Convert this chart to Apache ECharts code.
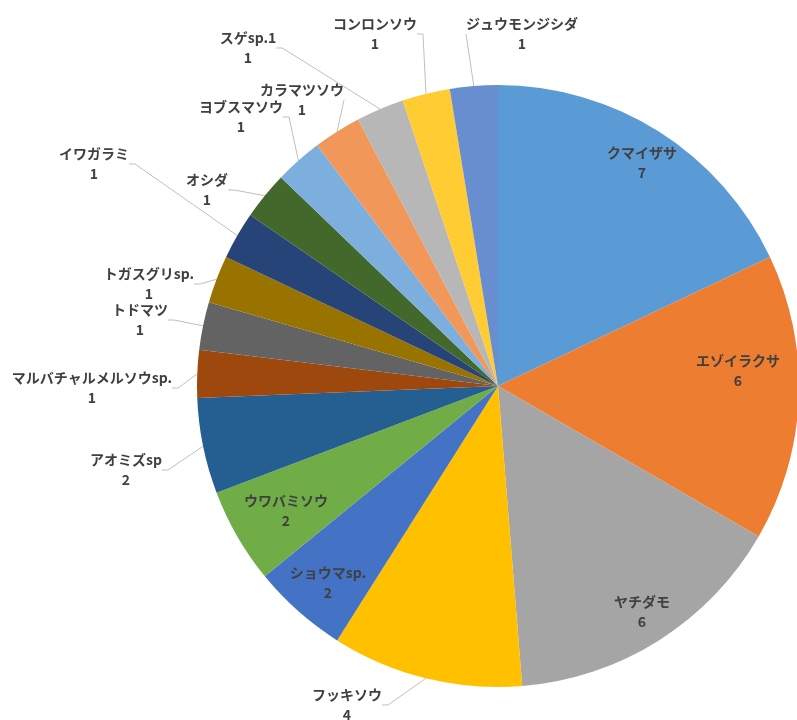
<!DOCTYPE html>
<html>
<head>
<meta charset="utf-8">
<script src="https://cdn.jsdelivr.net/npm/echarts@6/dist/echarts.min.js"></script>
<style>
html,body{margin:0;padding:0;background:#fff;}
#chart{width:797px;height:720px;}
</style>
</head>
<body>
<div id="chart"></div>
<script>
// Data
const categories = ['クマイザサ','エゾイラクサ','ヤチダモ','フッキソウ','ショウマsp.','ウワバミソウ','アオミズsp','マルバチャルメルソウsp.','トドマツ','トガスグリsp.','イワガラミ','オシダ','ヨブスマソウ','カラマツソウ','スゲsp.1','コンロンソウ','ジュウモンジシダ'];
const values = [7,6,6,4,2,2,2,1,1,1,1,1,1,1,1,1,1];

// Styles / layout (not data)
const colors = ['#5B9BD5','#ED7D31','#A5A5A5','#FFC000','#4472C4','#70AD47','#255E91','#9E480E','#636363','#997300','#264478','#43682B','#7CAFDD','#F1975A','#B7B7B7','#FFCD33','#698ED0'];
const insideLabels = [true,true,true,false,true,true,false,false,false,false,false,false,false,false,false,false,false];
const labelPos = [
  [642,163],[738,371],[642,612],[347,705],[328,583],[286,511],[126,470],[92,388],
  [140,320],[149,284],[94,164],[207,190],[241,117],[302,100],[248,48],[375,34],[522,34]
];

const chart = echarts.init(document.getElementById('chart'), null, {renderer:'canvas'});
const data = categories.map((n,i)=>({
  name:n,
  value:values[i],
  itemStyle:{color:colors[i]},
  label:{position: insideLabels[i] ? 'inside' : 'outside'},
  labelLine:{show: !insideLabels[i]}
}));

chart.setOption({
  animation:false,
  series:[{
    type:'pie',
    center:[498,386],
    radius:[0,301],
    startAngle:90,
    clockwise:true,
    avoidLabelOverlap:false,
    itemStyle:{borderWidth:0},
    label:{
      formatter:'{b}\n{c}',
      color:'#404040',
      fontFamily:'"Noto Sans CJK JP", sans-serif',
      fontSize:14,
      fontWeight:'bold',
      lineHeight:20,
      align:'center'
    },
    labelLine:{
      length:10,
      length2:6,
      lineStyle:{color:'#BFBFBF',width:1}
    },
    labelLayout:function(p){
      const pos = labelPos[p.dataIndex];
      return {x:pos[0], y:pos[1], align:'center', verticalAlign:'middle'};
    },
    data:data
  }]
});
</script>
</body>
</html>
